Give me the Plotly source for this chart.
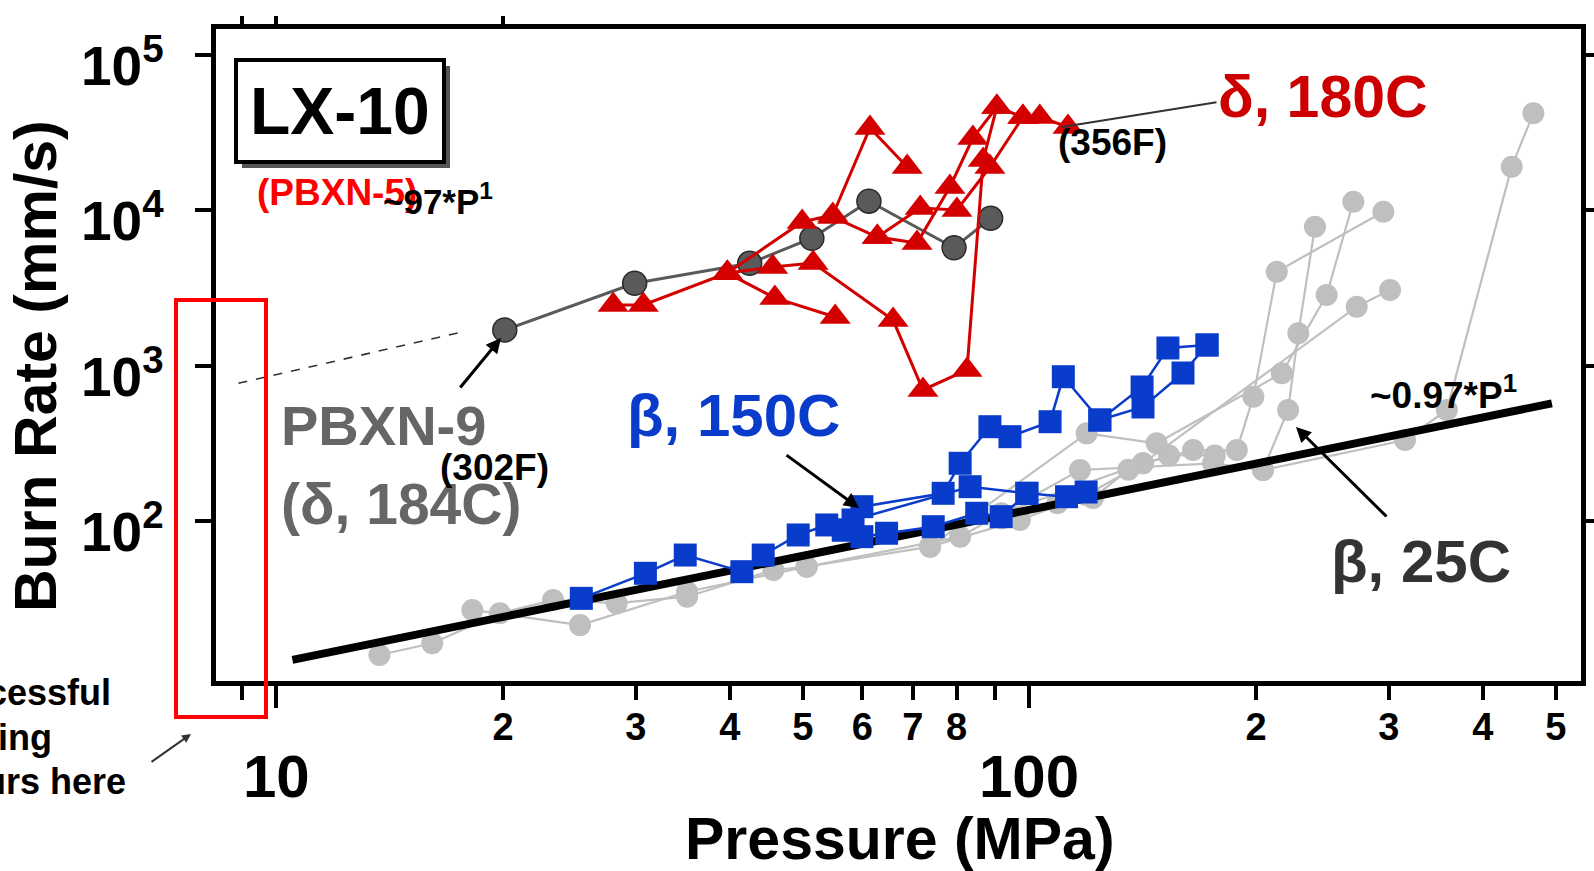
import plotly.graph_objects as go
import math

W, H = 1594, 871
L, R, T, B = 216, 13, 29, 190
X_RANGE = [0.9197, 2.7324]
Y_RANGE = [0.971, 5.164]

# ---------------- data (pressure MPa, burn rate mm/s) ----------------
fit_p = [10.5, 494]
fit_r = [12.8, 571]
ext_p = [8.9, 17.7]
ext_r = [768, 1650]

pbxn9_p = [20.1, 29.9, 42.5, 51.4, 61.2, 79.4, 88.8]
pbxn9_r = [1690, 3380, 4540, 6580, 11400, 5720, 8840]

d180_1_p = [28.0, 30.7, 39.7, 45.6, 51.6, 65.9, 72.2, 82.6, 86.8, 90.5, 98.0, 103.2, 112.5]
d180_1_r = [2450, 2450, 3930, 4300, 4560, 1960, 696, 936, 20960, 45960, 39640, 39640, 34190]
d180_2_p = [39.7, 45.9, 55.2]
d180_2_r = [3930, 2720, 2050]
d180_3_p = [39.7, 49.9, 54.8, 61.4, 68.8]
d180_3_r = [3930, 8370, 9290, 33690, 18900]
d180_4_p = [54.8, 62.8, 70.9, 78.4, 84.1, 90.5]
d180_4_r = [9020, 6700, 6130, 14060, 29040, 45960]
d180_5_p = [62.8, 71.6, 80.1, 88.6, 98.0]
d180_5_r = [6700, 10300, 10000, 18900, 39640]

b150_1_p = [25.4, 30.9, 34.9, 41.5, 44.3, 49.3, 53.8, 56.6, 59.9, 64.6, 74.5, 85.1, 91.7, 99.2, 112.0, 118.9]
b150_1_r = [31.8, 46.1, 60.4, 47.2, 60.4, 81.3, 94.3, 87.5, 79.3, 83.4, 91.9, 112.1, 106.6, 150.7, 143.3, 153.6]
b150_2_p = [56.6, 59.9, 76.8, 80.9, 88.6, 94.2, 106.5, 110.9, 124.0, 141.1, 152.7, 172.1]
b150_2_r = [87.5, 123.6, 150.7, 235, 404, 348.5, 435, 847, 446, 727.5, 1296, 1355]
b150_3_p = [58.3, 83.4, 99.2]
b150_3_r = [101.5, 166.2, 150.7]
b150_4_p = [124.0, 141.5, 159.9, 172.1]
b150_4_r = [446, 541, 894.6, 1355]

b25_1_p = [13.7, 16.1, 19.8, 23.3, 28.3, 35.1, 45.7, 50.6, 73.8, 97.1, 118.9, 141.5, 164.9, 188.5, 198.3, 213.0, 295.1]
b25_1_r = [13.75, 16.35, 25.5, 31.0, 29.6, 32.6, 48.4, 50.8, 68.4, 101.5, 146.9, 235, 286, 286, 630, 4011, 9750]
b25_2_p = [18.2, 25.3, 35.1, 50.6, 80.9, 116.7, 175.3, 204.2, 220.5, 227.5, 239.4]
b25_2_r = [26.8, 21.4, 35.1, 50.8, 79.3, 212.8, 235, 212.8, 517, 1611, 7808]
b25_3_p = [73.8, 119.1, 147.5, 216.3, 248.1, 269.2]
b25_3_r = [68.4, 366, 316, 891, 2841, 11310]
b25_4_p = [91.7, 141.5, 272.0, 301.2]
b25_4_r = [112, 235, 2388, 3058]
b25_5_p = [204.2, 315.3, 358.3, 436.9, 466.8]
b25_5_r = [212.8, 331.8, 517.4, 18990, 41870]
b25_6_p = [91.8, 108.9, 121.4, 135.3, 153.2, 176.2]
b25_6_r = [103.8, 130.2, 140.4, 213.8, 264.1, 264.1]

x_minor_vals = [9, 20, 30, 40, 50, 60, 70, 80, 90, 200, 300, 400, 500]
x_minor_text = ["", "2", "3", "4", "5", "6", "7", "8", "", "2", "3", "4", "5"]
x_major_vals = [10, 100]
x_major_text = ["10", "100"]
x_top_vals = [9, 10, 20]
y_tick_vals = [100, 1000, 10000, 100000]
y_tick_text = ["10<sup>2</sup>", "10<sup>3</sup>", "10<sup>4</sup>", "10<sup>5</sup>"]

# ---------------- helpers for pixel placement of text ----------------
PW, PH = W - L - R, H - T - B
def px(x):
    return (x - L) / PW
def py(y):
    return (H - B - y) / PH

FONT = "Liberation Sans, Arial, Helvetica, sans-serif"
RED = "#d40000"
BLUE = "#0a3ccc"
GRAY = "#bfbfbf"
DARK = "#5a5a5a"

fig = go.Figure()

def add_series(xs, ys, color, symbol, size, lw, mline=None):
    fig.add_trace(go.Scatter(
        x=xs, y=ys, mode="lines+markers",
        line=dict(color=color, width=lw),
        marker=dict(symbol=symbol, size=size, color=color,
                    line=dict(color=mline or color, width=1.5 if mline else 0)),
        showlegend=False, hoverinfo="skip"))

for xs, ys in [(b25_1_p, b25_1_r), (b25_2_p, b25_2_r), (b25_3_p, b25_3_r),
               (b25_4_p, b25_4_r), (b25_5_p, b25_5_r), (b25_6_p, b25_6_r)]:
    add_series(xs, ys, GRAY, "circle", 22, 2.2)

fig.add_trace(go.Scatter(x=fit_p, y=fit_r, mode="lines",
                         line=dict(color="black", width=8),
                         showlegend=False, hoverinfo="skip"))

for xs, ys in [(b150_1_p, b150_1_r), (b150_2_p, b150_2_r), (b150_3_p, b150_3_r),
               (b150_4_p, b150_4_r)]:
    add_series(xs, ys, BLUE, "square", 23, 2.5)

fig.add_trace(go.Scatter(x=ext_p, y=ext_r, mode="lines",
                         line=dict(color="#333333", width=1.6, dash="dash"),
                         showlegend=False, hoverinfo="skip"))
add_series(pbxn9_p, pbxn9_r, DARK, "circle", 24, 3, mline="#2a2a2a")

for xs, ys in [(d180_1_p, d180_1_r), (d180_2_p, d180_2_r), (d180_3_p, d180_3_r),
               (d180_4_p, d180_4_r), (d180_5_p, d180_5_r)]:
    add_series(xs, ys, RED, "triangle-up", 27, 3)

# invisible trace so that the top (mirror) tick axis is built
fig.add_trace(go.Scatter(x=fit_p, y=fit_r, xaxis="x2", mode="lines",
                         line=dict(width=0), opacity=0,
                         showlegend=False, hoverinfo="skip"))

# ---------------- axes ----------------
fig.update_layout(
    width=W, height=H, autosize=False,
    margin=dict(l=L, r=R, t=T, b=B, pad=0, autoexpand=False),
    paper_bgcolor="white", plot_bgcolor="white",
    font=dict(family=FONT, color="black"),
    showlegend=False,
    xaxis=dict(type="log", range=X_RANGE, showgrid=False, zeroline=False,
               automargin=False,
               showline=True, linecolor="black", linewidth=5, mirror=True,
               ticks="outside", tickvals=x_minor_vals, ticktext=x_minor_text,
               ticklen=14, tickwidth=4, tickcolor="black",
               ticklabelstandoff=-6,
               tickfont=dict(size=38, family=FONT, weight="bold"),
               minor=dict(tickvals=x_major_vals, ticklen=22, tickwidth=4,
                          tickcolor="black", ticks="outside", showgrid=False)),
    xaxis2=dict(type="log", range=X_RANGE, overlaying="x", side="top",
                anchor="y", showgrid=False, zeroline=False, showline=False,
                automargin=False,
                ticks="outside", tickvals=x_top_vals, ticklen=12, tickwidth=4,
                tickcolor="black", showticklabels=False),
    yaxis=dict(type="log", range=Y_RANGE, showgrid=False, zeroline=False,
               automargin=False,
               showline=True, linecolor="black", linewidth=5, mirror="ticks",
               ticks="outside", tickvals=y_tick_vals, ticklen=16, tickwidth=4,
               tickcolor="black", showticklabels=False),
)

ann = []
# y tick labels
for v, t in zip(y_tick_vals, y_tick_text):
    ann.append(dict(x=px(166), y=math.log10(v), xref="paper", yref="y",
                    text=t, showarrow=False, xanchor="right", yanchor="middle",
                    yshift=-7,
                    font=dict(size=55, family=FONT, weight="bold")))
# big x tick labels
for v, t in zip(x_major_vals, x_major_text):
    ann.append(dict(x=math.log10(v), y=py(776), xref="x", yref="paper",
                    text=t, showarrow=False, xanchor="center", yanchor="middle",
                    font=dict(size=60, family=FONT, weight="bold")))

def txt(text, x, y, size, color="black", xanchor="center", angle=0):
    ann.append(dict(x=px(x), y=py(y), xref="paper", yref="paper", text=text,
                    showarrow=False, xanchor=xanchor, yanchor="middle",
                    textangle=angle,
                    font=dict(size=size, family=FONT, color=color, weight="bold")))

txt("Pressure (MPa)", 900, 839, 59)
txt("Burn Rate (mm/s)", 36, 366, 59, angle=-90)
txt("LX-10", 340, 111, 66)
txt("(PBXN-5)", 337, 192, 37, color="#ff0000")
txt("~97*P<sup>1</sup>", 438, 199, 35)
txt("PBXN-9", 279, 426, 56, color="#666666", xanchor="left")
txt("(δ, 184C)", 279, 504, 57, color="#666666", xanchor="left")
txt("(302F)", 494, 467, 37)
txt("β, 150C", 733, 415, 60, color=BLUE)
txt("δ, 180C", 1323, 97, 59, color="#cc0000")
txt("(356F)", 1112, 142, 37)
txt("~0.97*P<sup>1</sup>", 1443, 392, 37)
txt("β, 25C", 1421, 561, 60, color="#333333")
txt("Successful", 113, 693, 36, xanchor="right")
txt("burning", 54, 737, 36, xanchor="right")
txt("occurs here", 128, 781, 36, xanchor="right")

def arrow(hx, hy, tx, ty, color="black", width=3, head=2, size=1.0):
    ann.append(dict(x=px(hx), y=py(hy), xref="paper", yref="paper",
                    ax=tx - hx, ay=ty - hy, axref="pixel", ayref="pixel",
                    text="", showarrow=True, arrowhead=head, arrowsize=size,
                    arrowwidth=width, arrowcolor=color))

arrow(501, 338, 459, 389)
arrow(859, 508, 785, 454)
arrow(1296, 427, 1388, 518)
arrow(1062, 127, 1218, 102, color="#333333", width=2, head=0)
arrow(191, 734, 150, 763, color="#333333", width=2, head=2, size=0.9)

fig.update_layout(annotations=ann)

shapes = [
    dict(type="rect", xref="paper", yref="paper",
         x0=px(242), x1=px(450), y0=py(168), y1=py(66),
         fillcolor="#555555", line=dict(width=0), layer="above"),
    dict(type="rect", xref="paper", yref="paper",
         x0=px(236), x1=px(444), y0=py(162), y1=py(60),
         fillcolor="white", line=dict(color="black", width=4), layer="above"),
    dict(type="rect", xref="paper", yref="paper",
         x0=px(176), x1=px(266), y0=py(717), y1=py(300),
         fillcolor="rgba(0,0,0,0)", line=dict(color="#ff0000", width=4),
         layer="above"),
]
fig.update_layout(shapes=shapes)

fig.write_html(
    "out.html",
    config={"displayModeBar": False},
    post_script="document.body.style.margin='0px';"
                "document.body.style.overflow='hidden';",
)
